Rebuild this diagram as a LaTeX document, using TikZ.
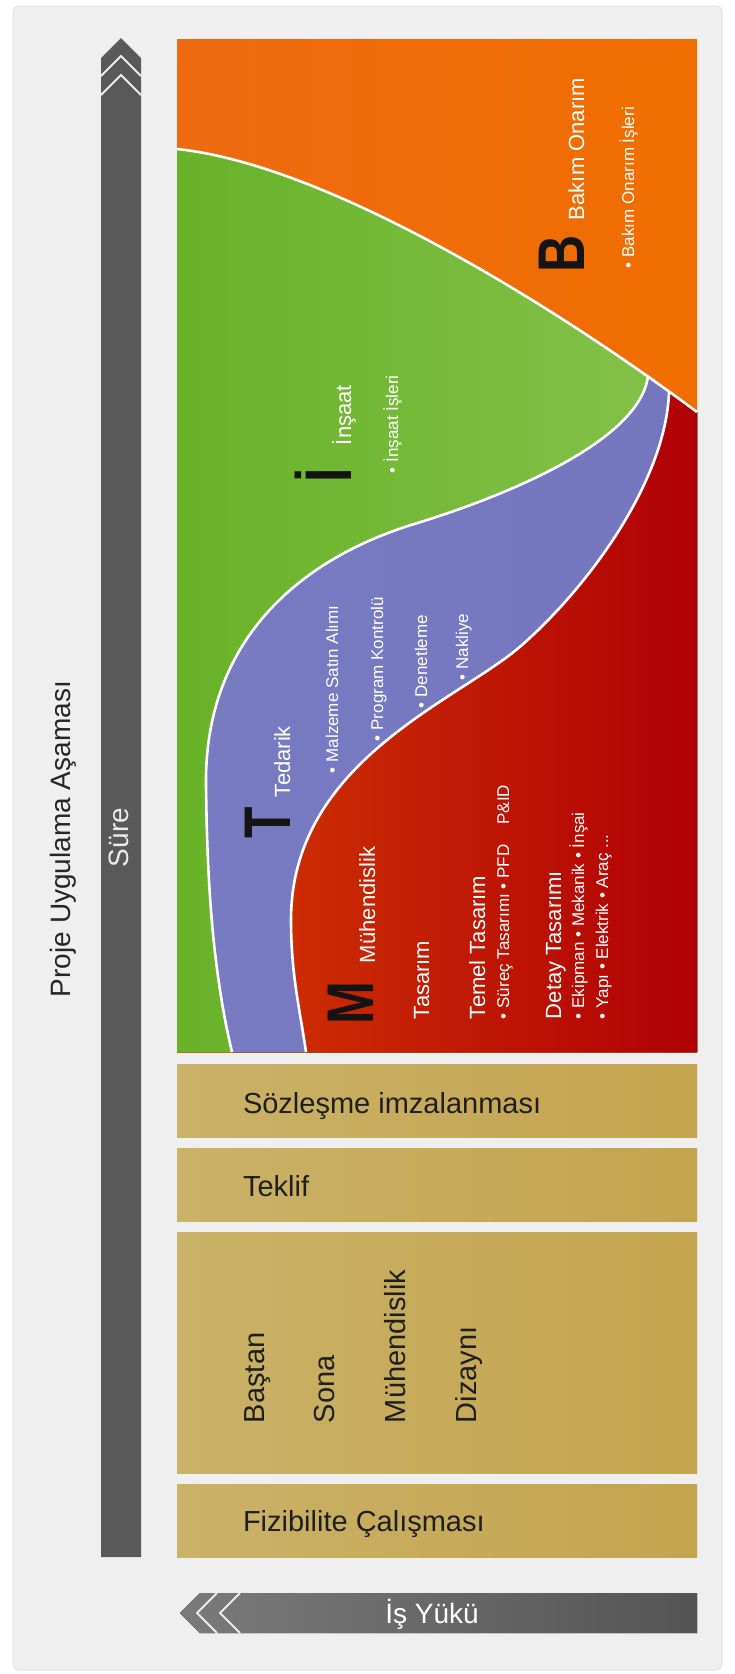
\documentclass[tikz,border=0pt]{standalone}
\usepackage{fontspec}
\usepackage{graphicx}
\setmainfont{Liberation Sans}
\definecolor{oraL}{RGB}{238,106,16}
\definecolor{oraM}{RGB}{244,140,60}
\definecolor{oraR}{RGB}{240,110,0}
\definecolor{grnL}{RGB}{104,178,40}
\definecolor{grnM}{RGB}{136,194,78}
\definecolor{grnR}{RGB}{134,194,76}
\definecolor{purL}{RGB}{120,122,194}
\definecolor{purM}{RGB}{142,142,206}
\definecolor{purR}{RGB}{116,118,190}
\definecolor{redL}{RGB}{204,44,4}
\definecolor{redR}{RGB}{176,0,6}
\definecolor{begL}{RGB}{202,178,104}
\definecolor{begM}{RGB}{217,198,142}
\definecolor{begR}{RGB}{196,164,78}
\definecolor{panelfill}{RGB}{239,239,239}
\definecolor{panelline}{RGB}{226,226,226}
\definecolor{bargrey}{RGB}{89,89,89}
\begin{document}
\begin{tikzpicture}[x=1pt,y=-1pt,
  every node/.style={inner sep=0pt,outer sep=0pt},
  rot/.style={rotate=90,anchor=base west},
  ttl/.style={rot,text=white,font=\fontsize{22}{24}\selectfont},
  bul/.style={rot,text=white,font=\fontsize{17}{19}\selectfont},
  bigl/.style={rot,text=black!92,font=\fontsize{66}{66}\selectfont\bfseries},
  lbl/.style={anchor=base west,text=black!88,font=\fontsize{29}{32}\selectfont},
  rlbl/.style={rot,text=black!88,font=\fontsize{29}{32}\selectfont},
  sep/.style={draw=white,line width=2.6pt},
  chev/.style={draw=white!92!black,line width=2pt},
  beige/.style={left color=begL,middle color=begM,right color=begR}]
\useasboundingbox (0,0) rectangle (734,1674);
\fill[white] (0,0) rectangle (734,1674);
\draw[fill=panelfill,draw=panelline,line width=1pt,rounded corners=6pt] (13,6) rectangle (722,1670);

% chart regions
\fill[left color=oraL,middle color=oraM,right color=oraR] (177,39) rectangle (697,1052);
\fill[left color=grnL,middle color=grnM,right color=grnR]
  (177,149) .. controls (330,165) and (560,310) .. (697,412) -- (697,1052) -- (177,1052) -- cycle;
\fill[left color=purL,middle color=purM,right color=purR]
  (648,376) .. controls (640,440) and (510,495) .. (411,525)
  .. controls (300,560) and (204,640) .. (206,786)
  .. controls (207,860) and (210,960) .. (232,1052) -- (697,1052) -- (697,412) -- cycle;
\fill[left color=redL,right color=redR]
  (669,392) .. controls (666,480) and (590,585) .. (522,645)
  .. controls (460,700) and (291,760) .. (291,920)
  .. controls (291,975) and (300,1010) .. (306,1052) -- (697,1052) -- (697,412) -- cycle;
\draw[sep] (177,149) .. controls (330,165) and (560,310) .. (697,412);
\draw[sep] (648,376) .. controls (640,440) and (510,495) .. (411,525)
  .. controls (300,560) and (204,640) .. (206,786)
  .. controls (207,860) and (210,960) .. (232,1052);
\draw[sep] (669,392) .. controls (666,480) and (590,585) .. (522,645)
  .. controls (460,700) and (291,760) .. (291,920)
  .. controls (291,975) and (300,1010) .. (306,1052);

% B region
\node[bigl] (bigB) at (584,272) {\scalebox{0.78}[1]{B}};
\node[ttl] (bak) at (584,220) {Bakım Onarım};
\node[bul] (bakI) at (634,268) {• Bakım Onarım İşleri};
% I region
\node[bigl] (bigI) at (351,482) {\scalebox{0.78}[1]{İ}};
\node[ttl] (ins) at (351,445) {İnşaat};
\node[bul] (insI) at (398,473) {• İnşaat İşleri};
% T region
\node[bigl] (bigT) at (290,838) {\scalebox{0.78}[1]{T}};
\node[ttl] (ted) at (290,797) {Tedarik};
\node[bul] (t1) at (338,773) {• Malzeme Satın Alımı};
\node[bul] (t2) at (383,741) {• Program Kontrolü};
\node[bul] (t3) at (427,708) {• Denetleme};
\node[bul] (t4) at (468,680) {• Nakliye};
% M region
\node[bigl] (bigM) at (373,1024) {\scalebox{0.78}[1]{M}};
\node[ttl] (muh) at (375,963) {Mühendislik};
\node[ttl] (tas) at (429,1019) {Tasarım};
\node[ttl] (tem) at (485,1019) {Temel Tasarım};
\node[bul] (tem1) at (509,1019) {• Süreç Tasarımı • PFD\hspace{20pt}P\&ID};
\node[ttl] (det) at (561,1019) {Detay Tasarımı};
\node[bul] (det1) at (584,1019) {• Ekipman • Mekanik • İnşai};
\node[bul] (det2) at (608,1019) {• Yapı • Elektrik • Araç ...};

% beige boxes
\fill[beige] (177,1064) rectangle (697,1137);
\fill[beige] (177,1148) rectangle (697,1221);
\fill[beige] (177,1232) rectangle (697,1473);
\fill[beige] (177,1484) rectangle (697,1557);
\node[lbl] (soz) at (243,1113) {Sözleşme imzalanması};
\node[lbl] (tek) at (243,1196) {Teklif};
\node[rlbl] (bas) at (264,1423) {Baştan};
\node[rlbl] (son) at (334,1423) {Sona};
\node[rlbl] (muh2) at (405,1423) {Mühendislik};
\node[rlbl] (diz) at (476,1423) {Dizaynı};
\node[lbl] (fiz) at (243,1531) {Fizibilite Çalışması};

% time arrow
\fill[bargrey] (101,1557) -- (101,58) -- (121,38) -- (141,58) -- (141,1557) -- cycle;
\draw[chev] (101,76) -- (121,56) -- (141,76);
\draw[chev] (101,95) -- (121,75) -- (141,95);
\node[rot,text=white!92!black,font=\fontsize{28}{30}\selectfont] (sure) at (128,867) {Süre};
\node[rot,text=black!85,font=\fontsize{28}{30}\selectfont] (proje) at (70,997) {Proje Uygulama Aşaması};

% workload arrow
\fill[left color=black!52,right color=black!67] (180,1613) -- (200,1593) -- (697,1593) -- (697,1633) -- (200,1633) -- cycle;
\draw[chev] (217,1593) -- (197,1613) -- (217,1633);
\draw[chev] (240,1593) -- (220,1613) -- (240,1633);
\node[anchor=base,text=white,font=\fontsize{28}{30}\selectfont] (is) at (432,1623) {İş Yükü};
\end{tikzpicture}
\end{document}
